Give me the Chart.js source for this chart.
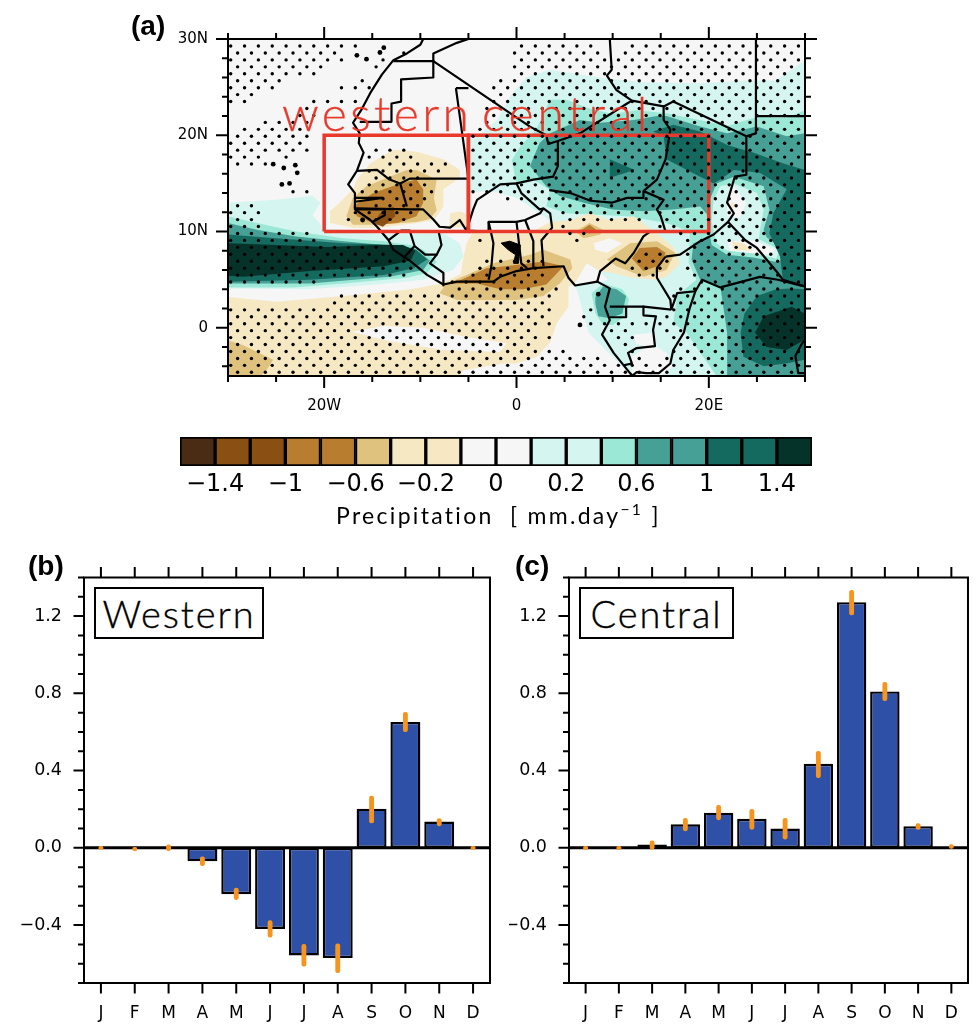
<!DOCTYPE html>
<html><head><meta charset="utf-8">
<script src="https://cdn.jsdelivr.net/npm/chart.js@4"></script>
<style>
html,body{margin:0;padding:0;background:#fff;width:978px;height:1024px;overflow:hidden}
canvas{position:absolute}
.t{position:absolute;white-space:nowrap;color:#000;line-height:1}
.p{font-family:"Liberation Sans",sans-serif;font-weight:bold;font-size:28px}
.box{position:absolute;border:2px solid #000;box-sizing:border-box;background:#fff;font-family:Lato,sans-serif;font-weight:300;font-size:38px;letter-spacing:1.9px;-webkit-text-stroke:0.35px #000;display:flex;align-items:center;justify-content:center}
.red{font-family:Lato,sans-serif;font-weight:300;color:#e8392b;font-size:48px;letter-spacing:3.4px;-webkit-text-stroke:0.3px #e8392b}
sup{font-size:68%;line-height:0}
</style></head><body>
<canvas id="map" style="left:0;top:0" width="978" height="425"></canvas>
<canvas id="cbar" style="left:0;top:425px" width="978" height="80"></canvas>
<canvas id="west" style="left:0;top:545px" width="500" height="479"></canvas>
<canvas id="cent" style="left:500px;top:545px" width="478" height="479"></canvas>
<div class="t p" style="left:131px;top:12px">(a)</div>
<div class="t p" style="left:28px;top:552px">(b)</div>
<div class="t p" style="left:515px;top:552px">(c)</div>
<div class="t red" style="left:282px;top:89px">western</div>
<div class="t red" style="left:482px;top:89px;letter-spacing:4.2px">central</div>
<div class="t" style="left:336px;top:501px;font:400 23px Lato,sans-serif;letter-spacing:2.3px">Precipitation&nbsp; [ mm.day<sup>−1</sup> ]</div>
<div class="box" style="left:94px;top:587px;width:170px;height:52px">Western</div>
<div class="box" style="left:579px;top:587px;width:155px;height:52px">Central</div>
<script>
// ---------- bar panels ----------
const months = ["J","F","M","A","M","J","J","A","S","O","N","D"];
const westernValues = [0,-0.005,0,-0.07,-0.24,-0.42,-0.557,-0.571,0.203,0.652,0.136,0];
const westernLow  = [-0.008,-0.015,-0.015,-0.093,-0.268,-0.463,-0.613,-0.647,0.129,0.601,0.114,-0.008];
const westernHigh = [0.008,0.003,0.015,-0.046,-0.208,-0.377,-0.50,-0.497,0.268,0.702,0.151,0.008];
const centralValues = [0,0,0.017,0.122,0.182,0.15,0.10,0.435,1.272,0.81,0.112,0];
const centralLow  = [-0.008,-0.008,-0.008,0.088,0.145,0.096,0.045,0.363,1.206,0.762,0.095,-0.003];
const centralHigh = [0.008,0.008,0.036,0.153,0.22,0.20,0.153,0.50,1.334,0.857,0.126,0.017];
const barTicks = [-0.4,0,0.4,0.8,1.2];
const barTickLabels = ["−0.4","0.0","0.4","0.8","1.2"];
const barMinorTicks = [-0.7,-0.6,-0.5,-0.3,-0.2,-0.1,0.1,0.2,0.3,0.5,0.6,0.7,0.9,1.0,1.1,1.3,1.4];

// ---------- colour bar ----------
const binIndex = [0.5,1.5,2.5,3.5,4.5,5.5,6.5,7.5,8.5,9.5,10.5,11.5,12.5,13.5,14.5,15.5,16.5,17.5];
const DK="#4a2c14",B4="#8a5013",B3="#b87d2f",B2="#dfc27d",B1="#f6e8c3",W0="#f6f6f6",T1="#d5f5f1",T2="#9ce8d6",T3="#46a096",T4="#156a60",T5="#053329";
const binColors = [DK,B4,B4,B3,B3,B2,B1,B1,W0,W0,T1,T1,T2,T3,T3,T4,T4,T5];
const binTickPos = [1,3,5,7,9,11,13,15,17];
const binTickLabels = ["−1.4","−1","−0.6","−0.2","0","0.2","0.6","1","1.4"];

// ---------- map axes ----------
const lonTicks = [-20,0,20];
const lonTickLabels = ["20W","0","20E"];
const lonMinorTicks = [-30,-25,-15,-10,-5,5,10,15,25,30];
const latTicks = [30,20,10,0];
const latTickLabels = ["30N","20N","10N","0"];
const latMinorTicks = [28,26,24,22,18,16,14,12,8,6,4,2,-2,-4];

// ---------- contour areas, lon/lat ----------
const nearZeroField = [[-30,30],[30,30],[30,-5],[-30,-5]];
const tealPaleNorth = [[-4.8,14],[-4.6,19.5],[-2,21.6],[-0.7,24],[1,26],[3.5,26.8],[8.7,26],[13,25.5],[19,25.4],[24.3,25.7],[27,25.7],[30,27.8],[30,-5],[12,-5],[9.5,-2.5],[7.5,-0.5],[6.3,3.9],[5.5,5.5],[5,9],[3,11.5],[0,13.5],[-3,14.3]];
const tealPaleWest = [[-30,13],[-25,13.3],[-21.2,13.7],[-20.4,13],[-21.2,11.7],[-20,10.3],[-16.3,10],[-14,9.7],[-7.6,9.8],[-5.9,8.8],[-5.5,7.4],[-6.6,6],[-9.7,5],[-14.5,4.5],[-21.5,4],[-30,4.1]];
const tealMidNorth = [[-0.5,17.4],[0.5,19],[2,20.5],[3.5,23.7],[5.2,23.7],[7.5,22.8],[10,22.2],[12.5,22.6],[15.6,22.3],[19,21.6],[22,21],[25,21.9],[28,21.8],[30,22.6],[30,-5],[20.8,-5],[19.4,-3],[17.7,-0.5],[16.3,0.5],[16.7,3.3],[18.7,5],[17.9,6.8],[18,9.2],[18,10],[15.6,10.9],[11.5,11.6],[5.2,11.9],[3.1,12.6],[3.5,14.3],[1.75,15.4],[0,15]];
const tealMidWest = [[-30,11.6],[-27,10.9],[-22.9,10],[-18,9.3],[-13.8,9],[-11,8.6],[-9.7,8.1],[-8.3,6.9],[-9.3,5.7],[-11.4,5.2],[-18,4.6],[-23.2,4.2],[-30,4.2]];
const tealMidGabon = [[7.8,3.6],[9,4.6],[11,4],[11.7,3],[11.3,1.2],[10,0.3],[9,0.3],[8.2,1.5]];
const tealDeepEast = [[1.4,16.8],[2.4,19.2],[3.5,20.2],[6.6,21.6],[8.7,21.3],[12.2,21.6],[14.6,22],[15.6,22],[19.1,20.9],[21.9,20.2],[25,20.9],[28.1,19.9],[30,20.2],[30,-5],[21.9,-5],[21.9,-0.5],[21.2,4.3],[19.1,5],[18.2,7.1],[18.4,8.8],[21.2,9.8],[20.5,11],[19.1,12.6],[16.3,12.3],[13.2,12.1],[10,12.3],[7,13],[4.5,13.7],[3.1,14.7]];
const tealDeepWest = [[-30,10.9],[-27,10.2],[-22.9,9.5],[-18,9],[-13.8,8.6],[-10.7,8.3],[-9,7],[-9.7,6],[-13.2,5.3],[-21.5,4.6],[-30,4.6]];
const tealDeepGabon = [[8.2,3.2],[9,4.3],[10.4,4],[11.4,3.3],[11,1.5],[9.7,1],[8.5,1.2],[8.2,2.5]];
const spotMid = [[19.8,12.6],[20.8,15],[22.6,15.7],[25.7,14.7],[26.3,12.3],[25.7,10.2],[26,9.4],[28,8],[27.3,6.8],[24.6,7.3],[21.9,7.6],[20.3,8.6],[19.8,11]];
const spotPale = [[20.5,13.3],[21.2,14.7],[22.6,15],[25,14],[25.7,12.3],[25.3,10],[25.2,9.2],[27.4,8.1],[27,7.2],[24.6,7.8],[21.9,8],[20.8,8.8],[20.3,11]];
const tealDarkEast = [[14.2,20.4],[16.3,21.1],[19.1,20.4],[21.9,19],[24.6,18.2],[27.7,17.1],[30,16.4],[30,4.3],[27.7,5],[27.4,7.4],[26.3,9.8],[26.7,11.9],[28.1,14.4],[25.3,16.1],[22.6,16.4],[21.2,15.4],[20.5,15],[17.7,16.4],[15.6,17.5],[15.3,19.9]];
const tealDarkNiger = [[9.7,17.5],[12.3,16.4],[9.7,15.6]];
const tealDarkCongo = [[23.3,-0.5],[23.7,1.5],[25,3.3],[27,4],[28.5,4.1],[30,4],[30,-3.3],[28,-3.7],[25.7,-4],[23.6,-3]];
const tealDarkWest = [[-30,9.7],[-25,9.3],[-18,8.8],[-12.5,8.6],[-10.4,8.1],[-9.3,7.1],[-10.7,6.2],[-13.8,5.5],[-21.5,5],[-30,4.8]];
const tealBlackWest = [[-30,8.8],[-25,8.6],[-19.7,8.4],[-14.6,8.6],[-11.8,8.6],[-10.5,8],[-11,7],[-13.8,6.4],[-21.5,5.9],[-28.4,5.3],[-30,5.4]];
const tealBlackCongo = [[24.8,-0.5],[25.7,1.2],[28.6,2.2],[30,1.5],[30,-1.2],[28.1,-2.3],[26,-2]];
const creamGulf = [[-30,3.2],[-25,2.7],[-18,3.3],[-11,4],[-7.8,4.6],[-5.8,5.6],[-5.5,7.4],[-5.2,8.8],[-4.5,10],[-3,9.8],[0,9.8],[2,10.2],[3.5,11],[5.6,11.2],[7.6,11.9],[9.7,11.2],[12.2,11.6],[14.6,9.8],[16.3,8.4],[17,6.7],[15.6,5.3],[14.3,5],[12,5.2],[10,5.7],[8.7,5.9],[7.3,6.7],[6.1,4.6],[5.4,4.3],[5.4,2.2],[4.2,0.5],[3.5,-1.5],[2.1,-3],[0,-3.7],[-1.4,-3.7],[-5.5,-4.4],[-5.9,-5],[-30,-5]];
const creamSenegal = [[-12.8,18.5],[-10.4,18.3],[-7.6,17.5],[-5.9,16.4],[-5.9,15.6],[-7.6,14.4],[-7.6,12.6],[-8.6,11.2],[-10.4,10.9],[-14.2,10.4],[-17,10.4],[-19.4,10.9],[-19.4,12.1],[-18.4,13],[-17,14.4],[-16.6,15.4],[-15.2,17.1]];
const creamMali = [[-6.9,11.9],[-5.9,12.1],[-5.2,11.8],[-5.2,10.5],[-7,10.4]];
const creamSpotA = [[22.3,13.1],[22.9,12.7],[22.4,12.4]];
const creamSpotB = [[22.4,9],[23.6,8.8],[24.6,8],[22.6,8.1]];
const whiteOcean = [[-17.1,-0.4],[-13.8,0.2],[-9.7,0],[-5.5,-0.9],[-1,-1.6],[-1.7,-2.5],[-7.6,-2.3],[-13.2,-1.4]];
const whiteCongo = [[12.2,-0.7],[14.3,-0.5],[14.6,-2],[15.6,-2.6],[16.3,-4],[15,-5],[12,-5],[12,-3],[13.5,-2],[12.4,-1.6]];
const whiteNigeria = [[8,8.8],[9.7,9.3],[11,8.8],[9.4,7.8],[8.2,8.1]];
const whiteWedge = [[6,4.5],[7.3,6.7],[8.6,5.9],[9.5,5],[8,4.6]];
const whiteSpotA = [[21.9,13.3],[22.6,14.7],[23.9,13],[23.2,11.4],[21.9,11.6]];
const whiteSpotB = [[21.9,9],[24.6,9.1],[27,8.1],[26,7.6],[22.2,8]];
const sandCorner = [[-30,-1.3],[-28.4,-1.8],[-25.3,-3.3],[-26,-4.4],[-26.6,-5],[-30,-5]];
const sandSenegal = [[-10.4,16.4],[-8.3,15.4],[-8.6,13.5],[-8.3,12.2],[-9,11.3],[-10.4,11],[-14.5,10.7],[-17,10.7],[-17.7,11.6],[-17,13.5],[-15.6,14.7],[-13.2,15.7],[-11.4,16.4]];
const sandGulf = [[-8,3.6],[-7.3,4.6],[-5.2,5.5],[-2.4,6.7],[1.4,7.6],[2.8,8.1],[5.6,7.1],[5.8,6.2],[4.5,4.6],[2.8,3.3],[0,2.9],[-2.4,2.9],[-6.2,2.9]];
const sandNigeria = [[6.1,10],[7.6,10.9],[9,10.2],[8.7,9.7],[7,9.3]];
const sandCameroon = [[9.4,7.1],[11.8,8.8],[14.6,9],[16.5,7.8],[15.6,6],[13.2,5.3],[10.4,6.4]];
const ochreSenegal = [[-12.1,15],[-10.4,15.4],[-9.7,14.4],[-9.7,13],[-10.4,11.6],[-12.4,10.9],[-14.5,10.7],[-16.6,11.6],[-17,12.6],[-14.9,14]];
const ochreGulf = [[-6.6,4.6],[-3.1,6.2],[-0.3,6.5],[2.8,6.9],[4.9,6.4],[3.1,4.5],[0.7,4],[-1.7,4],[-4.1,4.6]];
const ochreNigeria = [[6.8,10.2],[7.6,10.7],[8.3,10.2],[7.6,9.8]];
const ochreCameroon = [[12,7.2],[12.8,8.3],[14.6,8.4],[15.5,7.8],[15,6.5],[13.2,5.9]];
const brownSenegal = [[-14.2,11.9],[-12.8,12.6],[-12.6,11.6],[-13.9,10.5],[-14.9,10.9]];
const fillOrder = [
 [nearZeroField,W0],
 [tealPaleNorth,T1],[tealPaleWest,T1],[tealMidNorth,T2],[tealMidWest,T2],[tealDeepEast,T3],[tealDeepWest,T3],
 [tealMidGabon,T2],[tealDeepGabon,T3],
 [spotMid,T2],[spotPale,T1],
 [tealDarkEast,T4],[tealDarkNiger,T4],[tealDarkCongo,T4],[tealDarkWest,T4],[tealBlackWest,T5],[tealBlackCongo,T5],
 [creamGulf,B1],[creamSenegal,B1],[creamMali,B1],
 [whiteOcean,W0],[whiteCongo,W0],[whiteNigeria,W0],[whiteWedge,W0],[whiteSpotA,W0],[whiteSpotB,W0],
 [creamSpotA,B1],[creamSpotB,B1],
 [sandCorner,B2],[sandSenegal,B2],[sandGulf,B2],[sandNigeria,B2],[sandCameroon,B2],
 [ochreSenegal,B3],[ochreGulf,B3],[ochreNigeria,B3],[ochreCameroon,B3],[brownSenegal,B4]
];

// ---------- coast and borders ----------
const coast = [[-9.7,30],[-10,29.4],[-11.4,28.5],[-12.8,27.8],[-14,26.3],[-15.2,24.4],[-16.1,22.7],[-17,21.3],[-16.3,20.2],[-16.4,19.2],[-15.9,18.2],[-16.6,16.3],[-17.5,14.9],[-16.8,14],[-16.8,12.3],[-15.2,11.2],[-14.5,10.5],[-13.3,9.1],[-12.8,8.1],[-11,6.9],[-9.3,5.5],[-7.6,4.5],[-6.2,4.8],[-2.4,4.8],[-1.7,5.3],[0,5.9],[1.75,6.2],[4.9,6.4],[5.4,5.2],[6.1,4.4],[8.4,4.8],[9.7,4.1],[9.2,2.2],[9.7,0.8],[8.9,-0.7],[10.1,-2.6],[11.8,-4.7],[12.1,-5]];
const borders = [
 [[-12.8,27.7],[-8.65,27.7],[-8.65,28.5],[-6.2,29.6],[-5,30]],
 [[-8.65,27.7],[-8.65,26],[-12,25.8],[-12,23.5],[-13,23.3],[-13,21.4],[-16.3,21.4]],
 [[-8.65,27.7],[1.4,20.9],[3.1,20],[3.3,19.1],[4.3,19.4],[6.6,20.2],[11.5,23.3],[12,23.6]],
 [[9.7,30],[9.9,26.8],[9.4,26.2],[10.4,24.7],[12,23.6],[15.3,23],[16.3,23.5],[23.9,19.9],[24.9,20.2],[24.9,30]],
 [[24.9,22],[30,22]],
 [[23.9,19.9],[23.9,15.9],[22.7,15.7],[21.9,13],[22.6,11.9],[22,11],[23.8,9.1],[25,8.3],[27,5.9],[27.7,5],[30,4.3]],
 [[22,11],[20.5,9.7],[19.1,9],[17,7.6],[15.5,7.4]],
 [[-6.3,24.9],[-5,24.9]],
 [[-6.3,24.9],[-5,15.5],[-11.1,15.5],[-12.1,15]],
 [[-16.6,16.3],[-14.5,16.4],[-13.2,15.4],[-12.1,15],[-11.4,12.6]],
 [[-16.8,12.4],[-11.1,12.3],[-9.7,12.3],[-8.6,11.2],[-8,10.5],[-6.9,10.4],[-5.9,11.2],[-5.2,10.1],[-2.9,10],[-2.9,11],[0,11],[0.9,11.2],[2.45,11.9],[2.8,12.4],[3.5,11.9],[3.7,10.4],[2.6,9.1],[2.8,6.4]],
 [[-16.8,13.5],[-13.9,13.5],[-16.8,13.1]],
 [[-16.8,12.3],[-13.7,12.3],[-13.7,11.7],[-15,11]],
 [[-5.2,10.1],[-4.5,12.3],[-4.1,13.3],[-1.7,14.9],[0,15],[0.5,14],[2.4,12.3],[2.8,12.4]],
 [[3.4,14.3],[5.6,14],[7.7,13.2],[9.9,13],[11.5,13.5],[13.2,13.5]],
 [[0,15],[1.75,15.4],[3.8,15.7],[4.3,16.8],[4.3,19.4]],
 [[15.3,23],[15.3,21.6],[16,20.6],[15.5,17.5],[14.6,15.4],[13.2,14.2],[13.2,13.5]],
 [[13.2,14.2],[15.3,13.3],[14.6,12.3],[15,11.6],[15.5,10],[13.9,10],[13.2,9.5],[12.2,7.8],[11.3,6.7],[10.3,7.2],[8.7,5.9],[8.4,4.8]],
 [[15.5,7.4],[14.6,6.2],[14.6,5.2],[16,2.9],[16.1,1.9]],
 [[9.7,2.2],[13.2,2.2],[16.1,1.9]],
 [[9.7,1.1],[11.4,1.1],[11.4,2.2]],
 [[13.2,2.2],[13.2,1.3],[14.5,1.2],[14.2,-0.2],[14.4,-1.9],[12.5,-2.1],[11.6,-2.6],[12,-3.7],[11.1,-3.9]],
 [[16.1,1.9],[16.7,3.6],[18.6,3.8],[19.3,5],[21.2,4.2],[25.3,5.3],[27.2,5],[29.5,4.4],[30,4.3]],
 [[18.6,3.8],[18,2],[17.4,-0.5],[16.3,-2.3],[16,-3.7],[14.8,-4.7],[13.5,-4.7],[12.5,-4.6],[12,-5]],
 [[30,-1.3],[29.7,-1.6],[29,-2.9],[29.3,-4.7],[30,-4.7]],
 [[-13.3,9.1],[-12,10.1],[-11.1,10.1],[-10.6,8.5],[-9.5,7.6],[-8.3,7.6],[-7.8,8.6],[-8.1,10]],
 [[-11.8,7.2],[-10.6,8.5]],
 [[-8.3,7.6],[-9,6.7],[-7.6,5.7],[-7.6,4.4]],
 [[-2.9,11],[-2.4,8.8],[-2.6,6.5],[-2.9,5]],
 [[0,11],[0.5,6.7],[1.1,6.2]],
 [[0.9,11.2],[1.75,9],[1.75,6.2]]
];
const lakeVolta = [[-1.6,8.8],[-0.7,9],[0.4,8.6],[0.2,6.7],[-0.3,6.7],[-0.1,7.6],[-0.85,8.1]];
const islands = [[-25.3,17],[-24.2,16.6],[-23,16.9],[-22.8,16.1],[-24.4,14.9],[-23.6,15],[-16.6,28.3],[-15.6,27.9],[-14.2,28.6],[-13.8,29.1],[8.5,3.5],[6.6,0.3],[-16,11.2]];
const boxWestern = [[-20,10],[-5,10],[-5,20],[-20,20],[-20,10]];
const boxCentral = [[-5,10],[20,10],[20,20],[-5,20],[-5,10]];

// ---------- stippling: rows of significant longitudes, read row by row from north to south ----------
const stippleLatTop = 29.27, stippleLatStep = 0.721, stippleLonStep = 1.44, stippleLonEven = -29.72, stippleLonOdd = -29.0;
const stippleSpans = [
 [[-29.8,-16.6],[0.3,8],[11,29.5]],
 [[-29.1,-18],[-12,-11.5],[-1,8.5],[10.5,30]],
 [[-29.8,-18],[-14.8,-12.9],[-0.2,30]],
 [[-29.1,-19.5],[-15.5,-13.8],[-1,30]],
 [[-29.8,-21],[-14.8,-14.4],[-0.2,30]],
 [[-29.1,-24.5],[-18.4,-18],[-16.9,-15.1],[-1.7,30]],
 [[-29.8,-25.2],[-18.5,-15],[-2.4,30]],
 [[-29.1,-27.4],[-17,-16.5],[-1.7,30]],
 [[-29.8,-28.2],[-21,-16.5],[-2.4,30]],
 [[-22.5,-21.6],[-3,30]],
 [[-22.6,-21],[-3,30]],
 [[-26.2,-21.7],[-3.7,30]],
 [[-28.4,-22.4],[-3.7,30]],
 [[-29.1,-21.6],[-4.5,30]],
 [[-29.8,-22.4],[-4.5,30]],
 [[-29.1,-21.6],[-14.7,-11.6],[-4.5,30]],
 [[-29.8,-26.8],[-24.1,-23.8],[-15.4,-10.9],[-4.5,30]],
 [[-29.1,-26],[-13.3,-7.3],[-4.5,30]],
 [[-15.4,-8],[-4.5,30]],
 [[-14.7,-10],[-4.5,30]],
 [[-17.6,-17.4],[-15.4,-9.4],[-4.5,30]],
 [[-23.2,-21.8],[-16,-8.8],[-4.5,30]],
 [[-15.4,-9.4],[-1.5,30]],
 [[-29.1,-27.4],[-14.7,-10],[3.6,30]],
 [[-29.8,-26.8],[-16.8,-11],[4.5,30]],
 [[-29.1,-27.4],[-17.6,-11.7],[5,13.5],[15.5,30]],
 [[-29.8,-26.8],[4.8,6],[15,30]],
 [[-29.1,-21.6],[5.5,7.5],[16,30]],
 [[-29.8,-21],[-3.9,-3.6],[6.2,6.6],[16.8,30]],
 [[-29.1,-14.5],[-2.5,-2.2],[17.5,30]],
 [[-29.8,-13.1],[12.5,16],[17,30]],
 [[-29.1,-11.7],[-3,3],[11.5,15.5],[17.5,30]],
 [[-29.8,-10.2],[-3.8,3.2],[11.8,15.5],[17.5,30]],
 [[-29.1,-11],[-5.2,3.5],[12,14.5],[18,30]],
 [[-29.8,-21],[-6.6,3.2],[18,30]],
 [[-6,4.3],[16.5,30]],
 [[-18.2,4.3],[16.3,30]],
 [[-18.9,3.8],[17,30]],
 [[-29.8,4.2],[7.2,8],[16.5,30]],
 [[-29.1,3.5],[7,7.5],[15,30]],
 [[-29.8,3.5],[7.6,7.8],[9,30]],
 [[-29.1,2.2],[9,12.5],[15,30]],
 [[-29.8,3.5],[10,12.5],[15.5,30]],
 [[-29.1,2.5],[10.5,12.5],[16,30]],
 [[-29.8,6],[11,12],[15.5,30]],
 [[-29.1,8.5],[11.5,13],[15,30]],
 [[-29.8,10.5],[11.5,30]],
 [[-29.1,30]]
];

// ---------- helpers ----------
const pts = a => a.map(p=>({x:p[0],y:p[1]}));
const closed = a => pts(a.concat([a[0]]));
function stipplePoints(){
  const out=[];
  stippleSpans.forEach((spans,k)=>{
    const lat=stippleLatTop-k*stippleLatStep, start=k%2?stippleLonOdd:stippleLonEven;
    for(let lon=start;lon<30;lon+=stippleLonStep){
      if(spans.some(s=>lon>=s[0]-0.15&&lon<=s[1]+0.15)) out.push({x:lon,y:lat});
    }
  });
  return out;
}
const frameTicks = {
  id:'frameTicks',
  afterDraw(chart,args,o){
    const {ctx,chartArea:a,scales:{x,y}}=chart;
    ctx.save();ctx.strokeStyle='#000';ctx.lineWidth=2;ctx.lineCap='butt';
    ctx.beginPath();
    const mark=(side,scale,vals,len)=>vals.forEach(v=>{
      const p=scale.getPixelForValue(v);
      if(side==='top'){ctx.moveTo(p,a.top);ctx.lineTo(p,a.top-len);}
      if(side==='bottom'){ctx.moveTo(p,a.bottom);ctx.lineTo(p,a.bottom+len);}
      if(side==='left'){ctx.moveTo(a.left,p);ctx.lineTo(a.left-len,p);}
      if(side==='right'){ctx.moveTo(a.right,p);ctx.lineTo(a.right+len,p);}
    });
    o.xSides.forEach(s=>{mark(s,x,o.xMajor,o.majorLen);mark(s,x,o.xMinor,o.minorLen);});
    o.ySides.forEach(s=>{mark(s,y,o.yMajor,o.majorLen);mark(s,y,o.yMinor,o.minorLen);});
    ctx.stroke();
    ctx.strokeRect(a.left,a.top,a.right-a.left,a.bottom-a.top);
    ctx.restore();
  }
};
const fixedAxis = (dim,size)=>s=>{s[dim]=size;};

// ---------- map chart ----------
const mapDatasets=[];
fillOrder.forEach(f=>mapDatasets.push({data:closed(f[0]),showLine:true,fill:'shape',backgroundColor:f[1],borderColor:f[1],borderWidth:0,pointRadius:0}));
mapDatasets.push({data:closed(lakeVolta),showLine:true,fill:'shape',backgroundColor:'#000',borderColor:'#000',borderWidth:1,pointRadius:0});
[coast].concat(borders).forEach(b=>mapDatasets.push({data:pts(b),showLine:true,fill:false,borderColor:'#000',borderWidth:2.2,pointRadius:0,borderJoinStyle:'round'}));
[boxWestern,boxCentral].forEach(b=>mapDatasets.push({data:pts(b),showLine:true,fill:false,borderColor:'#e8392b',borderWidth:3.5,pointRadius:0,borderJoinStyle:'miter'}));
mapDatasets.push({data:pts(islands),showLine:false,pointRadius:2.4,pointBackgroundColor:'#000',pointBorderWidth:0});
mapDatasets.push({data:stipplePoints(),showLine:false,pointRadius:1.7,pointBackgroundColor:'#000',pointBorderWidth:0});
mapDatasets.forEach((d,i)=>d.order=mapDatasets.length-i);

new Chart(document.getElementById('map'),{
  type:'scatter',
  data:{datasets:mapDatasets},
  plugins:[frameTicks],
  options:{
    responsive:false,animation:false,
    layout:{padding:{left:168,top:39,right:173,bottom:4}},
    plugins:{legend:{display:false},tooltip:{enabled:false},
      frameTicks:{xSides:['top','bottom'],ySides:['left','right'],xMajor:lonTicks,xMinor:lonMinorTicks,yMajor:latTicks,yMinor:latMinorTicks,majorLen:12,minorLen:6}},
    scales:{
      x:{type:'linear',min:-30,max:30,grid:{display:false,drawTicks:false},border:{display:false},
         afterBuildTicks:s=>{s.ticks=lonTicks.map(v=>({value:v}));},afterFit:fixedAxis('height',45),
         ticks:{autoSkip:false,maxRotation:0,padding:21,color:'#000',font:{family:"DejaVu Sans",size:15},callback:v=>lonTickLabels[lonTicks.indexOf(v)]}},
      y:{type:'linear',min:-5,max:30,grid:{display:false,drawTicks:false},border:{display:false},
         afterBuildTicks:s=>{s.ticks=latTicks.map(v=>({value:v}));},afterFit:fixedAxis('width',60),
         ticks:{autoSkip:false,padding:20,color:'#000',font:{family:"DejaVu Sans",size:15},callback:v=>latTickLabels[latTicks.indexOf(v)]}}
    }
  }
});

// ---------- colour bar chart ----------
new Chart(document.getElementById('cbar'),{
  type:'bar',
  data:{datasets:[{data:binIndex.map(v=>({x:v,y:1})),backgroundColor:binColors,borderColor:'#000',borderWidth:2,borderSkipped:false,barPercentage:1,categoryPercentage:1}]},
  options:{
    responsive:false,animation:false,
    layout:{padding:{left:180,top:12,right:166,bottom:9}},
    plugins:{legend:{display:false},tooltip:{enabled:false}},
    scales:{
      x:{type:'linear',min:0,max:18,offset:false,grid:{display:false,drawTicks:false},border:{display:false},
         afterBuildTicks:s=>{s.ticks=binTickPos.map(v=>({value:v}));},afterFit:fixedAxis('height',30),
         ticks:{autoSkip:false,maxRotation:0,padding:4,color:'#000',font:{family:"DejaVu Sans",size:24},callback:v=>binTickLabels[binTickPos.indexOf(v)]}},
      y:{display:false,min:0,max:1}
    }
  }
});

// ---------- bar charts ----------
const zeroLine={id:'zeroLine',beforeDatasetDraw(chart,args){
  if(args.index!==1)return;
  const {ctx,chartArea:a,scales:{y}}=chart,p=y.getPixelForValue(0);
  ctx.save();ctx.strokeStyle='#000';ctx.lineWidth=3;ctx.beginPath();ctx.moveTo(a.left,p);ctx.lineTo(a.right,p);ctx.stroke();ctx.restore();
}};
function barChart(id,values,low,high,padLeft,yWidth,padRight){
  new Chart(document.getElementById(id),{
    type:'bar',
    data:{labels:months,datasets:[
      {data:values,order:2,grouped:false,backgroundColor:'#2e50a6',borderColor:'#000',borderWidth:2.4,borderSkipped:false,barPercentage:0.885,categoryPercentage:1},
      {data:low.map((v,i)=>[v,high[i]]),order:1,grouped:false,backgroundColor:'#f7941d',borderWidth:0,borderSkipped:false,borderRadius:2.1,barThickness:4.2}
    ]},
    plugins:[frameTicks,zeroLine],
    options:{
      responsive:false,animation:false,
      layout:{padding:{left:padLeft,top:31,right:padRight,bottom:1}},
      plugins:{legend:{display:false},tooltip:{enabled:false},
        frameTicks:{xSides:['top','bottom'],ySides:['left'],xMajor:months.map((m,i)=>i),xMinor:[],yMajor:barTicks,yMinor:barMinorTicks,majorLen:10.5,minorLen:6}},
      scales:{
        x:{grid:{display:false,drawTicks:false},border:{display:false},afterFit:fixedAxis('height',40),
           ticks:{autoSkip:false,maxRotation:0,padding:20,color:'#000',font:{family:"DejaVu Sans",size:17}}},
        y:{min:-0.7,max:1.4,grid:{display:false,drawTicks:false},border:{display:false},
           afterBuildTicks:s=>{s.ticks=barTicks.map(v=>({value:v}));},afterFit:fixedAxis('width',yWidth),
           ticks:{autoSkip:false,padding:22,color:'#000',font:{family:"DejaVu Sans",size:17.5},callback:v=>barTickLabels[barTicks.indexOf(v)]}}
      }
    }
  });
}
barChart('west',westernValues,westernLow,westernHigh,14,70,9.3);
barChart('cent',centralValues,centralLow,centralHigh,9,60,2.3);
</script>
</body></html>
